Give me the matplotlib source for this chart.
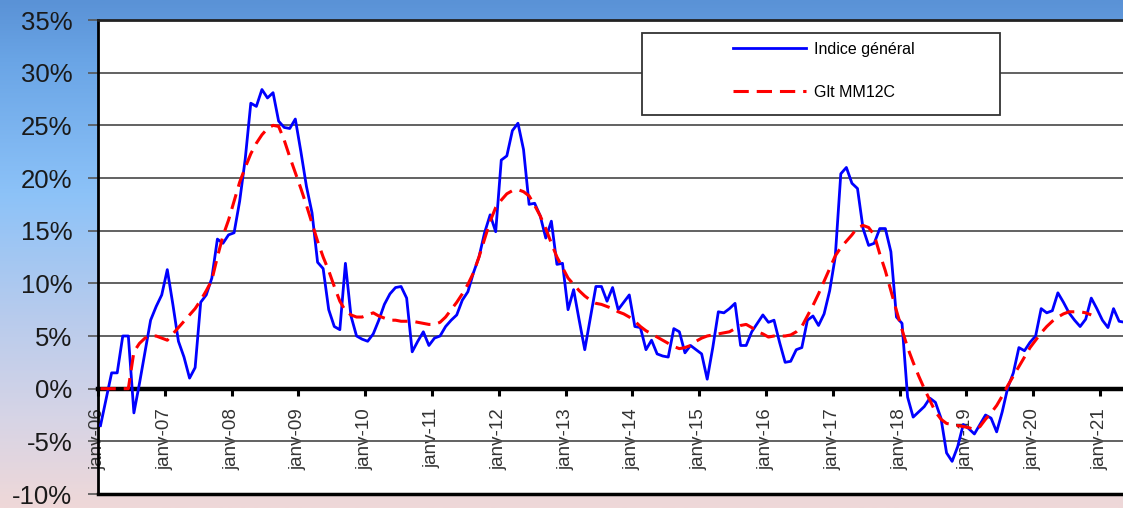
import numpy as np
import matplotlib.pyplot as plt
from matplotlib.colors import LinearSegmentedColormap
from matplotlib.patches import Rectangle
from matplotlib.lines import Line2D

# monthly series, janv-06 .. mai-21 (in %)
indice_general = [
    -3.5, -1.0, 1.5, 1.5, 5.0, 5.0, -2.3, 0.5, 3.5, 6.5, 7.8, 8.9,      # 2006
    11.3, 8.0, 4.5, 3.0, 1.0, 2.0, 8.2, 8.9, 10.5, 14.2, 13.8, 14.6,    # 2007
    14.8, 17.8, 21.8, 27.1, 26.8, 28.4, 27.6, 28.1, 25.4, 24.8, 24.7, 25.6,  # 2008
    22.5, 19.2, 16.7, 12.0, 11.4, 7.5, 5.9, 5.6, 11.9, 6.9, 5.0, 4.7,   # 2009
    4.5, 5.2, 6.5, 8.0, 9.0, 9.6, 9.7, 8.6, 3.5, 4.5, 5.4, 4.1,        # 2010
    4.8, 5.0, 5.9, 6.5, 7.0, 8.4, 9.2, 11.0, 12.5, 14.8, 16.5, 14.9,   # 2011
    21.7, 22.1, 24.5, 25.2, 22.7, 17.5, 17.6, 16.4, 14.3, 15.9, 11.8, 11.9,  # 2012
    7.5, 9.4, 6.5, 3.7, 6.7, 9.7, 9.7, 8.3, 9.6, 7.5, 8.2, 8.9,        # 2013
    5.9, 5.8, 3.7, 4.6, 3.3, 3.1, 3.0, 5.7, 5.4, 3.4, 4.1, 3.7,        # 2014
    3.3, 0.9, 3.9, 7.3, 7.2, 7.6, 8.1, 4.1, 4.1, 5.4, 6.2, 7.0,        # 2015
    6.3, 6.5, 4.4, 2.5, 2.6, 3.7, 3.9, 6.5, 6.9, 6.0, 7.1, 9.3,        # 2016
    12.5, 20.4, 21.0, 19.5, 19.0, 15.2, 13.6, 13.8, 15.2, 15.2, 13.0, 6.8,  # 2017
    6.2, -0.8, -2.7, -2.2, -1.7, -0.9, -1.3, -2.8, -6.1, -6.9, -5.5, -3.4,  # 2018
    -3.8, -4.3, -3.4, -2.5, -2.8, -4.1, -2.2, 0.1, 1.5, 3.9, 3.6, 4.4,  # 2019
    5.0, 7.6, 7.2, 7.4, 9.1, 8.2, 7.2, 6.5, 5.9, 6.6, 8.6, 7.6,        # 2020
    6.5, 5.8, 7.6, 6.4, 6.3,                                            # 2021
]

glt_mm12c = [
    0.0, 0.0, 0.0, 0.0, 0.0, 0.0, 3.5, 4.3, 4.8, 5.0, 5.0, 4.8,
    4.6, 5.2, 5.8, 6.4, 7.0, 7.6, 8.4, 9.3, 10.3, 12.5, 14.5, 16.0,
    17.8, 19.6, 21.0, 22.3, 23.3, 24.1, 24.7, 25.0, 24.9, 23.6, 22.0, 20.5,
    19.0, 17.4, 15.7, 14.0, 12.5, 11.2, 9.7, 8.3, 7.4, 7.0, 6.8, 6.8,
    7.0, 7.2, 6.9, 6.7, 6.5, 6.5, 6.4, 6.4, 6.4, 6.3, 6.2, 6.1,
    6.1, 6.3, 6.8, 7.5, 8.2, 9.0, 9.9, 11.0, 12.5, 14.2, 15.9, 17.2,
    17.9, 18.5, 18.8, 18.9, 18.7, 18.3, 17.4, 16.4, 15.2, 13.8, 12.5, 11.5,
    10.5, 9.9, 9.3, 8.8, 8.4, 8.1, 8.0, 7.8, 7.6, 7.3, 7.1, 6.8,
    6.4, 5.9, 5.5, 5.2, 4.9, 4.6, 4.3, 4.0, 3.8, 3.9, 4.1, 4.5,
    4.8, 5.0, 5.1, 5.2, 5.3, 5.4, 5.7, 6.0, 6.1, 5.8, 5.4, 5.2,
    4.9, 5.0, 5.0, 5.0, 5.1, 5.4, 5.9, 6.9, 7.9, 9.0, 10.2, 11.4,
    12.6, 13.4, 14.0, 14.6, 15.3, 15.5, 15.3, 14.6, 12.8, 11.2, 9.3, 7.4,
    5.6, 3.9, 2.5, 1.2, 0.0, -1.1, -2.2, -2.9, -3.3, -3.4, -3.5, -3.6,
    -3.7, -3.9, -3.6, -2.9, -2.3, -1.6, -0.7, 0.3, 1.2, 2.1, 3.0, 3.9,
    4.6, 5.3, 5.9, 6.4, 6.8, 7.1, 7.3, 7.3, 7.3, 7.2, 7.0,
]

tick_labels = ["janv-06", "janv-07", "janv-08", "janv-09", "janv-10", "janv-11",
               "janv-12", "janv-13", "janv-14", "janv-15", "janv-16", "janv-17",
               "janv-18", "janv-19", "janv-20", "janv-21"]
y_ticks = [-10, -5, 0, 5, 10, 15, 20, 25, 30, 35]

W, H = 1123, 508
fig = plt.figure(figsize=(W / 100, H / 100), dpi=100)

# background gradient
bg = fig.add_axes([0, 0, 1, 1])
cmap = LinearSegmentedColormap.from_list("bg", [
    (0.0, "#5a92d6"), (0.12, "#6aa5e6"), (0.38, "#8cc2f8"),
    (0.62, "#b7cbed"), (0.82, "#d6d4e6"), (1.0, "#efd8d8")])
grad = np.linspace(0, 1, 256).reshape(-1, 1)
bg.imshow(grad, aspect="auto", cmap=cmap, extent=[0, 1, 0, 1])
bg.axis("off")

ax = fig.add_axes([98 / W, 1 - 494 / H, 1 - 98 / W, 474 / H])
ax.set_facecolor("white")

# x axis sits on the 0% line (do this before styling ticks, it resets them)
ax.spines["bottom"].set_position(("data", 0))
ax.spines["bottom"].set_linewidth(3.2)
ax.spines["bottom"].set_zorder(2.5)
ax.spines["left"].set_linewidth(2)
ax.spines["top"].set_linewidth(2)
ax.spines["top"].set_color("#222222")
ax.spines["right"].set_visible(False)

x_blue = np.arange(len(indice_general))
x_red = np.arange(len(glt_mm12c))
ax.plot(x_blue, indice_general, color="#0000ff", lw=2.0, zorder=3)
ax.plot(x_red, glt_mm12c, color="#ff0000", lw=2.2, dashes=(5, 2.6), zorder=3)

ax.set_ylim(-10, 35)
ax.set_xlim(-0.45, 183.7)
ax.set_yticks(y_ticks)
ax.set_yticklabels([f"{v}%" for v in y_ticks], family="Liberation Sans")
ax.yaxis.grid(True, color="#555555", lw=1.3)
ax.set_axisbelow(True)
ax.tick_params(axis="y", length=7.5, width=1.2, color="#555555", pad=11,
               labelsize=18.5, labelcolor="#1a1a1a")

ax.set_xticks([12 * k - 0.45 for k in range(len(tick_labels))])
ax.set_xticklabels(tick_labels, rotation=90, family="Liberation Sans",
                   fontsize=13.5, color="#333333", va="top", ha="center")
ax.tick_params(axis="x", length=5, width=2.2, color="black", pad=9)

ax.axhline(-10, color="black", lw=2.5, clip_on=False, zorder=4)

# legend box
frame = Rectangle((642 / W, 1 - 115 / H), 358 / W, 82 / H, transform=fig.transFigure,
                  facecolor="white", edgecolor="#333333", lw=1.3, zorder=5)
fig.patches.append(frame)
handles = [Line2D([], [], color="#0000ff", lw=2.0),
           Line2D([], [], color="#ff0000", lw=2.2, dashes=(5, 2.6))]
leg = fig.legend(handles, ["Indice général", "Glt MM12C"], loc="upper left",
                 bbox_to_anchor=(733 / W, 1 - 42 / H), frameon=False,
                 prop={"family": "Liberation Sans", "size": 11.5},
                 handlelength=4.6, handletextpad=0.45, labelspacing=1.75,
                 borderpad=0, borderaxespad=0)
leg.set_zorder(6)

fig.savefig("out.png", dpi=100)
